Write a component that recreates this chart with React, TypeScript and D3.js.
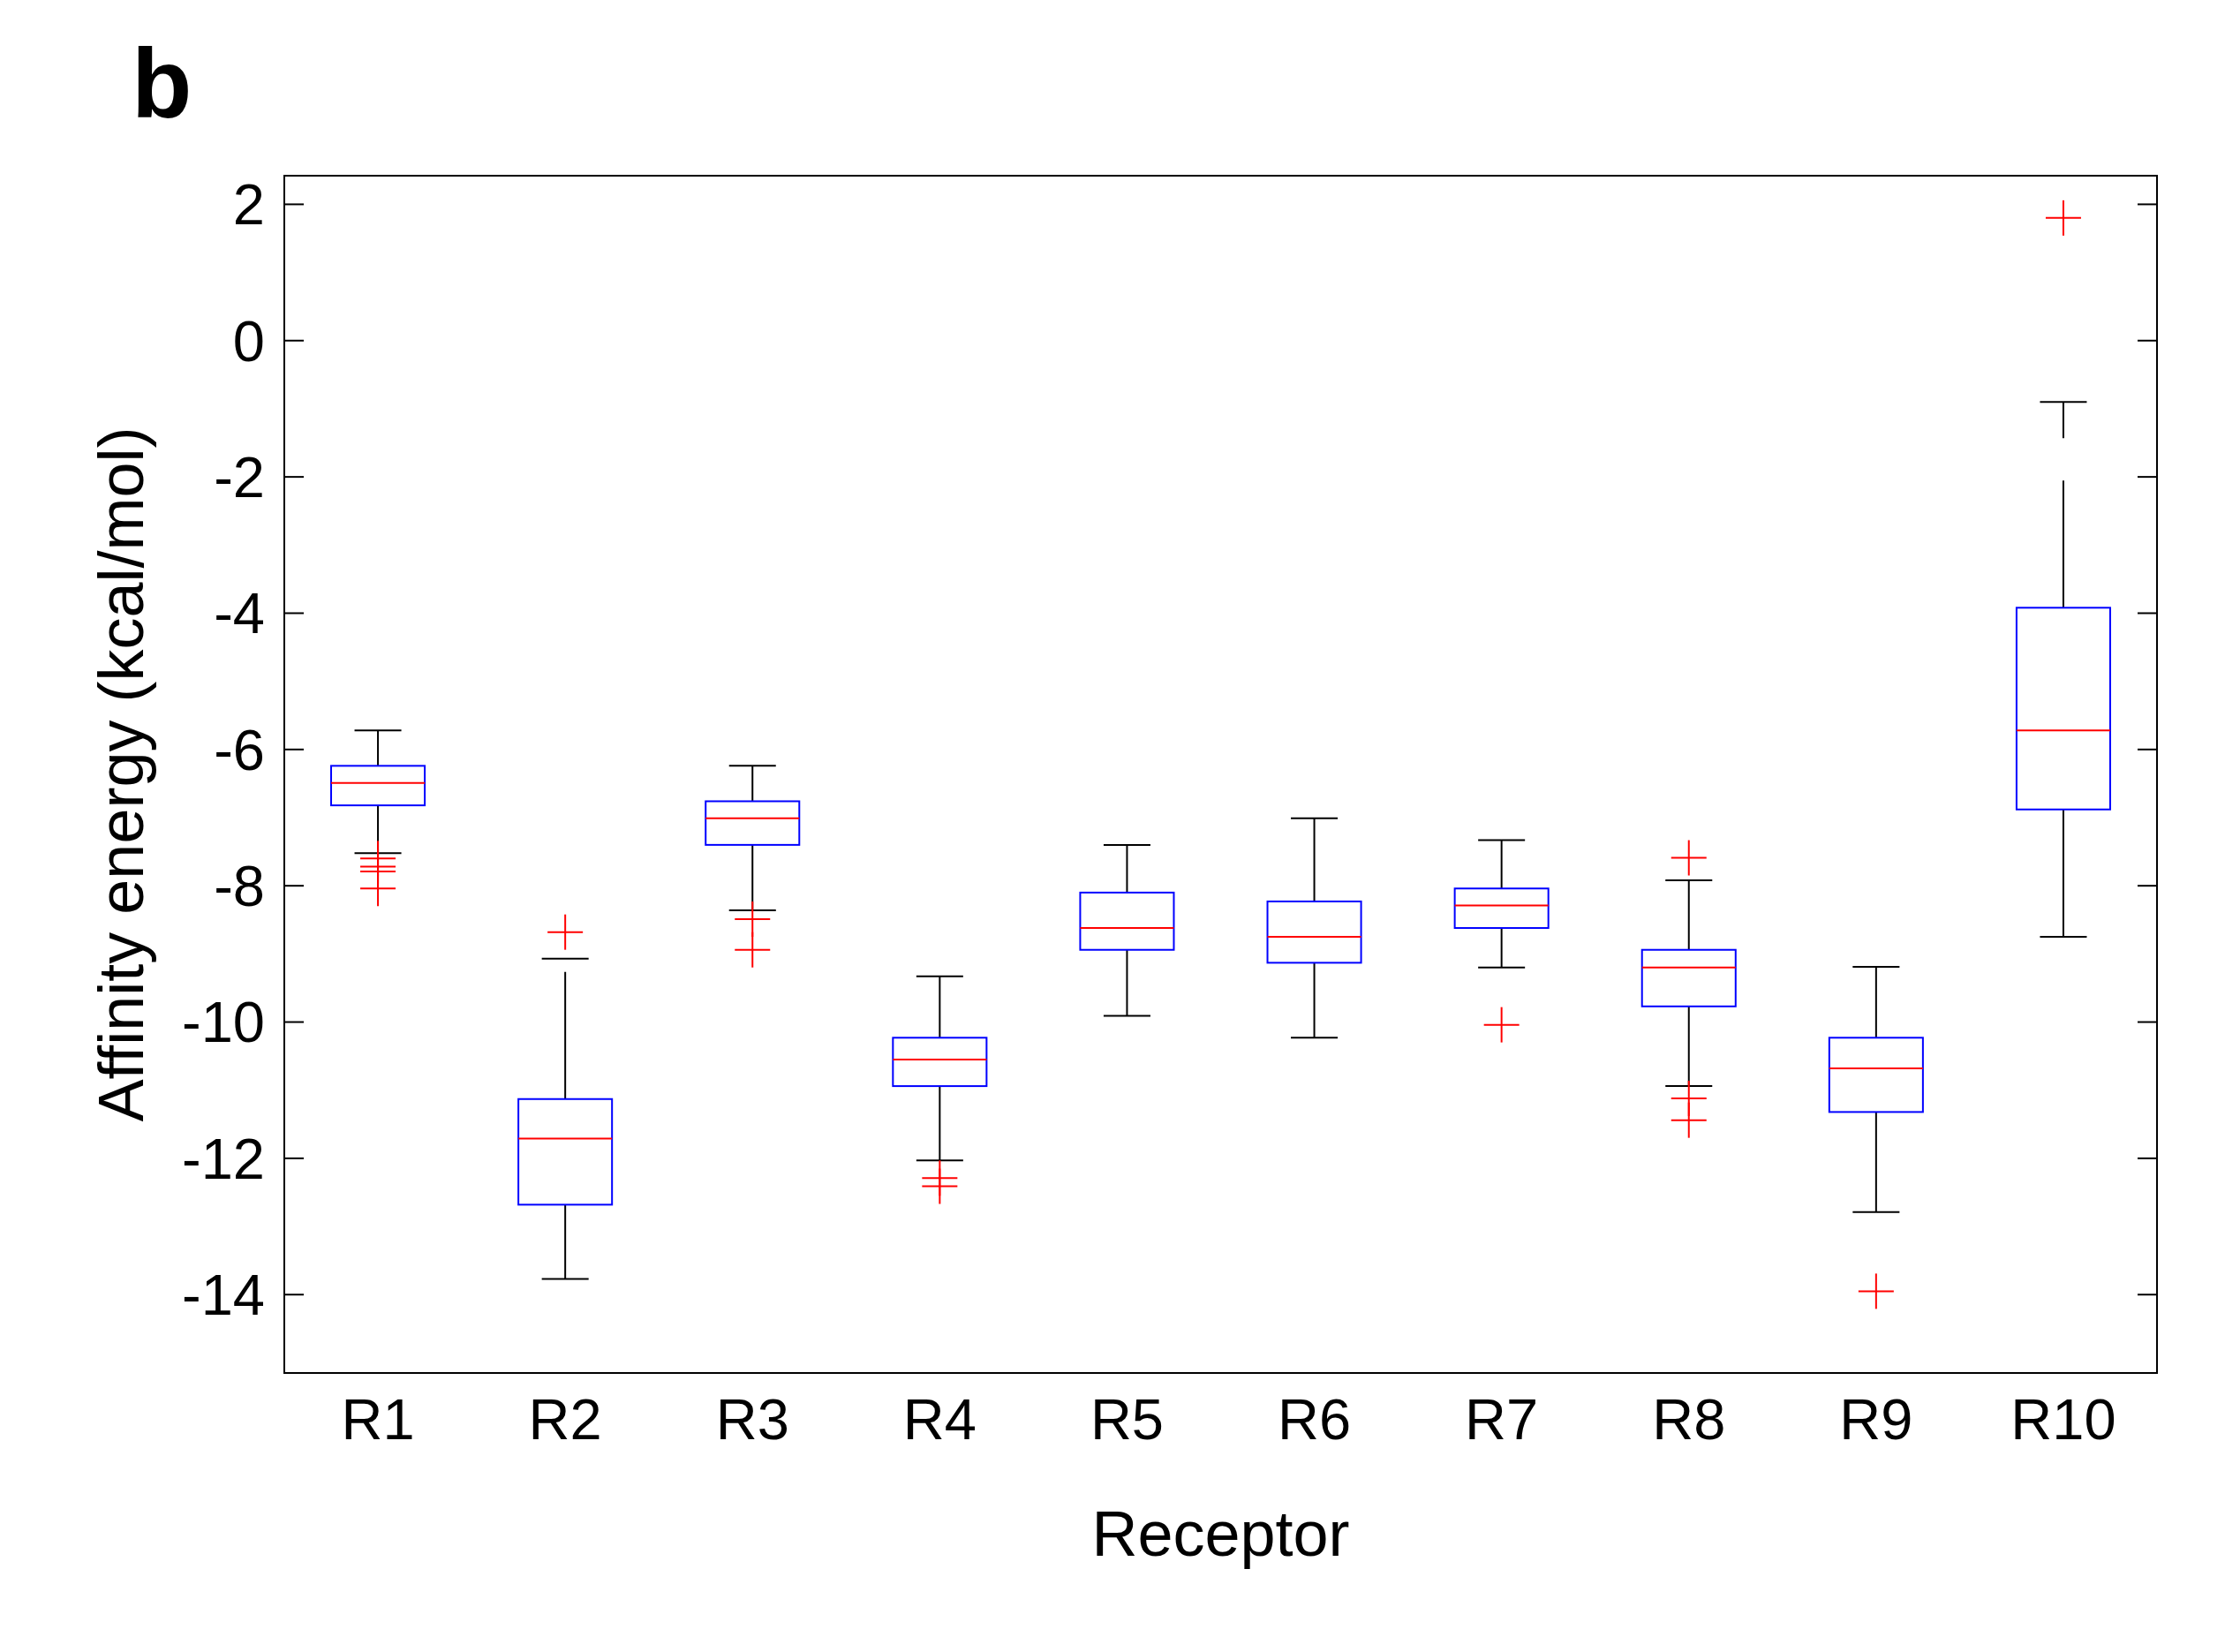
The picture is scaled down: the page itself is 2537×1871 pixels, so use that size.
import * as d3 from 'd3';

const WIDTH = 2537;
const HEIGHT = 1871;

const receptors = ['R1', 'R2', 'R3', 'R4', 'R5', 'R6', 'R7', 'R8', 'R9', 'R10'];
const whiskerLow = [-7.52, -13.77, -8.36, -12.03, -9.91, -10.23, -9.2, -10.94, -12.79, -8.75];
const q1 = [-6.82, -12.68, -7.4, -10.94, -8.94, -9.13, -8.62, -9.77, -11.32, -6.88];
const median = [-6.49, -11.71, -7.01, -10.55, -8.62, -8.75, -8.29, -9.2, -10.68, -5.72];
const q3 = [-6.24, -11.13, -6.76, -10.23, -8.1, -8.23, -8.04, -8.94, -10.23, -3.92];
const whiskerHigh = [-5.72, -9.07, -6.24, -9.33, -7.4, -7.01, -7.33, -7.92, -9.19, -0.9];
const outliers: number[][] = [
  [-7.6, -7.72, -7.79, -8.04],
  [-8.68],
  [-8.49, -8.94],
  [-12.29, -12.41],
  [],
  [],
  [-10.04],
  [-7.59, -11.12, -11.44],
  [-13.95],
  [1.8],
];
const yTicks = [2, 0, -2, -4, -6, -8, -10, -12, -14];

const FONT = '"Liberation Sans", Arial, Helvetica, sans-serif';

export default function App() {
  const m = { left: 322, right: 2443, top: 199, bottom: 1555 };
  const x = d3.scaleBand<string>().domain(receptors).range([m.left, m.right]).padding(0);
  const y = d3.scaleLinear().domain([-15.15, 2.42]).range([m.bottom, m.top]);
  const bw = x.bandwidth();
  const boxW = bw * 0.5;
  const capW = bw * 0.25;
  const plus = 20;

  return (
    <svg width={WIDTH} height={HEIGHT} viewBox={`0 0 ${WIDTH} ${HEIGHT}`}
      style={{ position: 'absolute', left: 0, top: 0, background: '#fff' }}>
      <rect x={0} y={0} width={WIDTH} height={HEIGHT} fill="#fff" />
      <text x={149} y={133} fontFamily={FONT} fontWeight="bold" fontSize={112}>b</text>

      {receptors.map((r, i) => {
        const cx = x(r)! + bw / 2;
        return (
          <g key={r}>
            {/* whiskers, dashed from the box outwards */}
            <line x1={cx} x2={cx} y1={y(q3[i])} y2={y(whiskerHigh[i])} stroke="#000" strokeWidth={2}
              strokeDasharray="144 48" />
            <line x1={cx} x2={cx} y1={y(q1[i])} y2={y(whiskerLow[i])} stroke="#000" strokeWidth={2}
              strokeDasharray="144 48" />
            <line x1={cx - capW / 2} x2={cx + capW / 2} y1={y(whiskerHigh[i])} y2={y(whiskerHigh[i])}
              stroke="#000" strokeWidth={2} />
            <line x1={cx - capW / 2} x2={cx + capW / 2} y1={y(whiskerLow[i])} y2={y(whiskerLow[i])}
              stroke="#000" strokeWidth={2} />
            <rect x={cx - boxW / 2} y={y(q3[i])} width={boxW} height={y(q1[i]) - y(q3[i])}
              fill="none" stroke="#0000ff" strokeWidth={2} />
            <line x1={cx - boxW / 2} x2={cx + boxW / 2} y1={y(median[i])} y2={y(median[i])}
              stroke="#ff0000" strokeWidth={2} />
            {outliers[i].map((v, j) => (
              <g key={j} stroke="#ff0000" strokeWidth={2}>
                <line x1={cx - plus} x2={cx + plus} y1={y(v)} y2={y(v)} />
                <line x1={cx} x2={cx} y1={y(v) - plus} y2={y(v) + plus} />
              </g>
            ))}
            <text x={cx} y={1630} textAnchor="middle" fontFamily={FONT} fontSize={65}>{r}</text>
          </g>
        );
      })}

      {yTicks.map((t) => (
        <g key={t}>
          <line x1={m.left} x2={m.left + 22} y1={y(t)} y2={y(t)} stroke="#000" strokeWidth={2} />
          <line x1={m.right - 22} x2={m.right} y1={y(t)} y2={y(t)} stroke="#000" strokeWidth={2} />
          <text x={m.left - 22} y={y(t)} dy="0.35em" textAnchor="end" fontFamily={FONT} fontSize={65}>{t}</text>
        </g>
      ))}

      <rect x={m.left} y={m.top} width={m.right - m.left} height={m.bottom - m.top}
        fill="none" stroke="#000" strokeWidth={2} />

      <text x={(m.left + m.right) / 2} y={1762} textAnchor="middle" fontFamily={FONT} fontSize={72}>Receptor</text>
      <text transform={`translate(162,${(m.top + m.bottom) / 2}) rotate(-90)`} textAnchor="middle"
        fontFamily={FONT} fontSize={72}>Affinity energy (kcal/mol)</text>
    </svg>
  );
}
